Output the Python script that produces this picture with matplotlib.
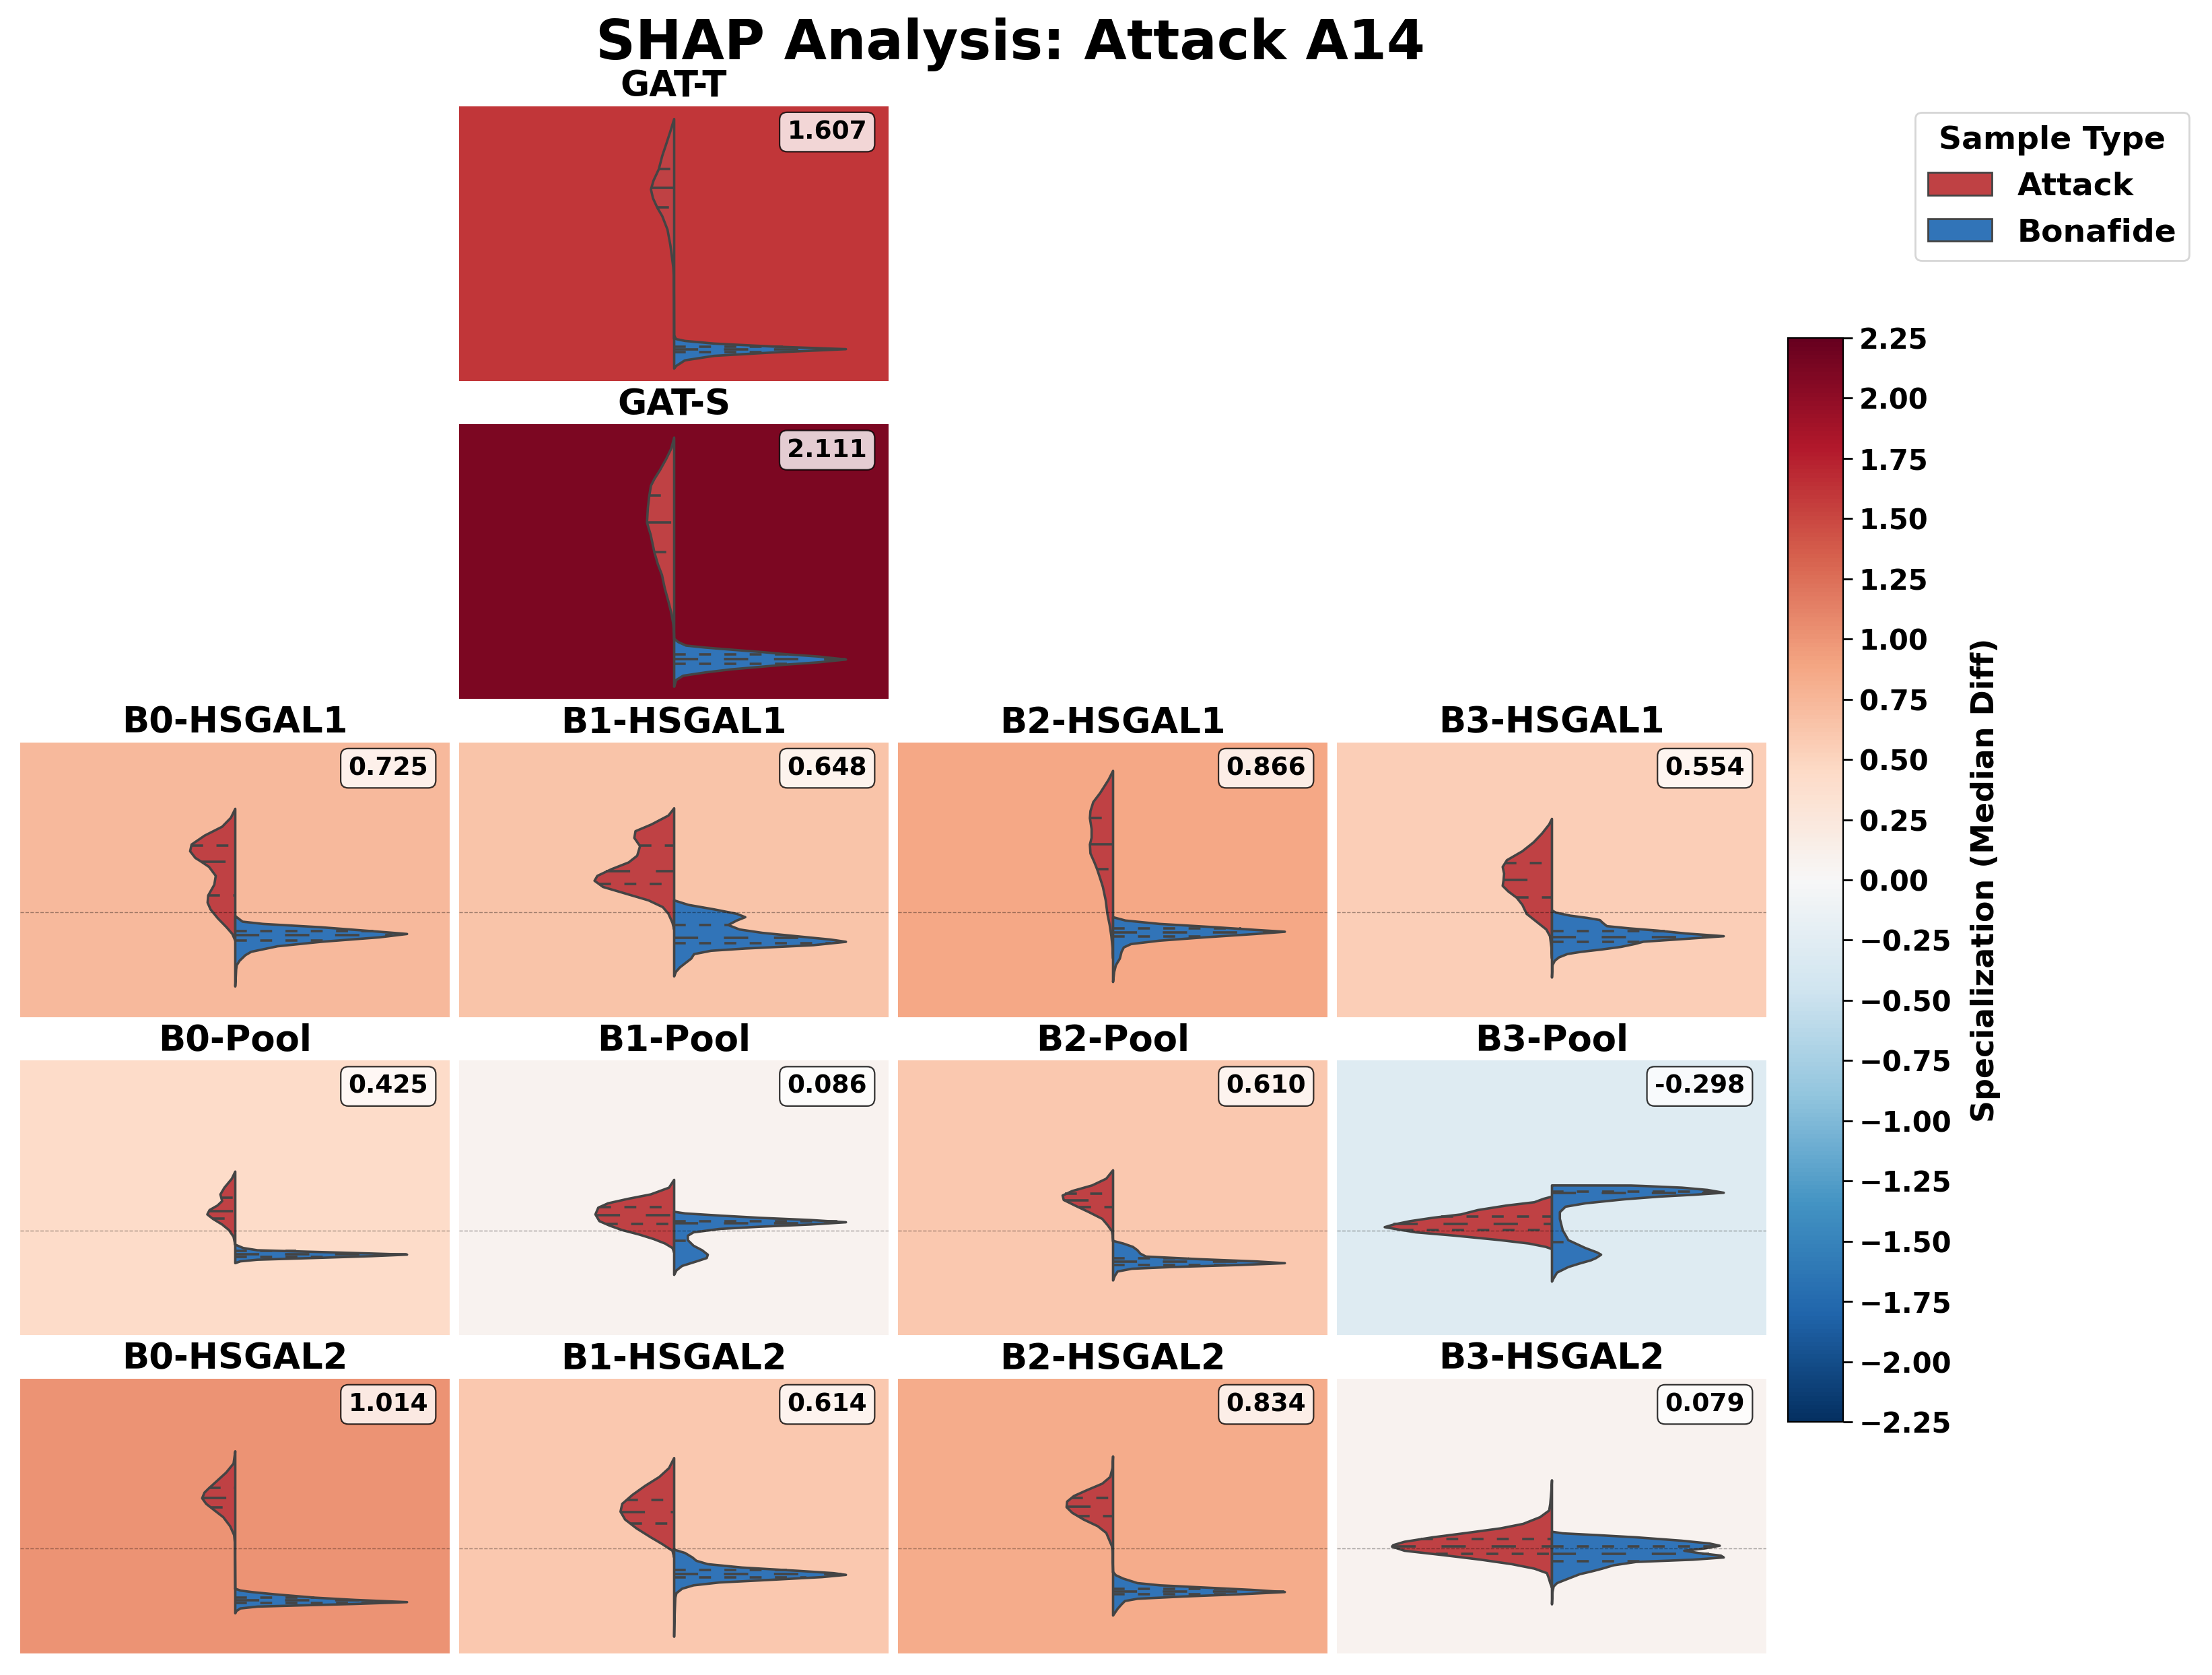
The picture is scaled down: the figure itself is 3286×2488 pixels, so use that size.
import numpy as np
import matplotlib
matplotlib.use("Agg")
import matplotlib.pyplot as plt
from matplotlib.colors import Normalize
from matplotlib.patches import Patch
from matplotlib.ticker import FuncFormatter

# ---------------------------------------------------------------- data
TITLE = "SHAP Analysis: Attack A14"
PANELS = ["GAT-T", "GAT-S",
          "B0-HSGAL1", "B1-HSGAL1", "B2-HSGAL1", "B3-HSGAL1",
          "B0-Pool", "B1-Pool", "B2-Pool", "B3-Pool",
          "B0-HSGAL2", "B1-HSGAL2", "B2-HSGAL2", "B3-HSGAL2"]
SPEC = [1.607, 2.111,
        0.725, 0.648, 0.866, 0.554,
        0.425, 0.086, 0.610, -0.298,
        1.014, 0.614, 0.834, 0.079]
GROUPS = ["Attack", "Bonafide"]
CBAR_TICKS = [2.25, 2.00, 1.75, 1.50, 1.25, 1.00, 0.75, 0.50, 0.25, 0.00,
              -0.25, -0.50, -0.75, -1.00, -1.25, -1.50, -1.75, -2.00, -2.25]

# density profiles (SHAP value levels, relative density) and quartiles [q1, median, q3]
GAT_T_ATK_VAL = [1.548, 1.427, 1.296, 1.186, 1.054, 0.944, 0.856, 0.769, 0.676, 0.593, 0.461, 0.307, 0.198, 0.088, -0.022, -0.242, -0.571, -0.615]
GAT_T_ATK_DEN = [0, 13, 28, 41, 53, 71, 80, 73, 58, 41, 23, 13, 8, 3, 1, 0.5, 0.2, 0]
GAT_T_ATK_Q = [0.676, 0.870, 1.054]
GAT_T_BON_VAL = [-0.582, -0.615, -0.633, -0.659, -0.688, -0.714, -0.747, -0.780, -0.824, -0.879, -0.905]
GAT_T_BON_DEN = [0, 7, 37, 137, 337, 592, 337, 137, 37, 7, 0]
GAT_T_BON_Q = [-0.747, -0.721, -0.692]

GAT_S_ATK_VAL = [1.543, 1.437, 1.334, 1.224, 1.136, 1.071, 0.970, 0.851, 0.708, 0.587, 0.418, 0.302, 0.192, 0.060, -0.071, -0.181, -0.291, -0.379, -0.440]
GAT_S_ATK_DEN = [0, 10, 28, 50, 70, 82, 88, 93, 96, 83, 70, 58, 43, 33, 20, 10, 3, 0.5, 0]
GAT_S_ATK_Q = [0.418, 0.708, 0.970]
GAT_S_BON_VAL = [-0.434, -0.467, -0.501, -0.521, -0.543, -0.565, -0.587, -0.609, -0.638, -0.665, -0.687, -0.708, -0.735, -0.764, -0.797, -0.840, -0.906]
GAT_S_BON_DEN = [0, 15, 42, 112, 210, 312, 400, 512, 607, 512, 400, 312, 200, 112, 32, 7, 0]
GAT_S_BON_Q = [-0.681, -0.638, -0.594]

B0_H1_ATK_VAL = [1.021, 0.933, 0.845, 0.758, 0.670, 0.604, 0.538, 0.498, 0.450, 0.362, 0.275, 0.169, 0.099, 0.033, -0.055, -0.143, -0.209, -0.275]
B0_H1_ATK_DEN = [0, 15, 45, 105, 150, 155, 137, 115, 90, 67, 72, 93, 95, 85, 60, 30, 10, 0]
B0_H1_ATK_Q = [0.169, 0.498, 0.654]
B0_H1_BON_VAL = [-0.033, -0.044, -0.088, -0.110, -0.143, -0.187, -0.209, -0.242, -0.286, -0.330, -0.384, -0.417, -0.472, -0.516, -0.560, -0.648, -0.725]
B0_H1_BON_DEN = [0, 5, 25, 95, 295, 495, 590, 495, 295, 145, 55, 35, 15, 5, 3, 1.5, 0]
B0_H1_BON_Q = [-0.275, -0.226, -0.187]

B1_H1_ATK_VAL = [1.026, 0.955, 0.867, 0.801, 0.735, 0.654, 0.560, 0.494, 0.428, 0.362, 0.314, 0.253, 0.187, 0.121, 0.055, -0.011, -0.099, -0.165]
B1_H1_ATK_DEN = [0, 10, 40, 68, 70, 60, 65, 80, 110, 135, 140, 125, 85, 45, 20, 10, 3, 0]
B1_H1_ATK_Q = [0.279, 0.402, 0.654]
B1_H1_BON_VAL = [0.121, 0.077, 0.033, -0.011, -0.044, -0.077, -0.121, -0.165, -0.198, -0.231, -0.264, -0.286, -0.319, -0.352, -0.374, -0.407, -0.451, -0.494, -0.538, -0.582, -0.626]
B1_H1_BON_DEN = [0, 25, 70, 110, 125, 110, 95, 115, 155, 215, 275, 302, 245, 125, 65, 35, 30, 20, 10, 3, 0]
B1_H1_BON_Q = [-0.301, -0.248, -0.127]

B2_H1_ATK_VAL = [1.394, 1.306, 1.175, 1.087, 0.999, 0.929, 0.823, 0.736, 0.670, 0.582, 0.494, 0.424, 0.340, 0.253, 0.121, -0.011, -0.121, -0.231, -0.340, -0.450]
B2_H1_ATK_DEN = [0, 8, 23, 35, 40, 41, 38, 38, 41, 40, 33, 28, 23, 18, 13, 10, 6, 3, 1, 0]
B2_H1_ATK_Q = [0.424, 0.670, 0.929]
B2_H1_BON_VAL = [-0.044, -0.077, -0.110, -0.143, -0.169, -0.187, -0.209, -0.242, -0.275, -0.308, -0.341, -0.385, -0.451, -0.516, -0.582, -0.681]
B2_H1_BON_DEN = [0, 22, 82, 182, 252, 304, 252, 162, 82, 32, 19, 15, 12, 5, 2, 0]
B2_H1_BON_Q = [-0.237, -0.195, -0.160]

B3_H1_ATK_VAL = [0.922, 0.867, 0.779, 0.692, 0.604, 0.516, 0.450, 0.384, 0.318, 0.264, 0.209, 0.147, 0.077, -0.011, -0.099, -0.165, -0.231, -0.340, -0.450]
B3_H1_ATK_DEN = [0, 10, 35, 65, 105, 160, 175, 170, 172, 175, 155, 125, 105, 90, 50, 20, 7, 2, 0]
B3_H1_ATK_Q = [0.147, 0.318, 0.485]
B3_H1_BON_VAL = [0.022, 0.000, -0.029, -0.051, -0.072, -0.099, -0.132, -0.154, -0.176, -0.204, -0.231, -0.257, -0.285, -0.307, -0.336, -0.362, -0.384, -0.406, -0.439, -0.472, -0.516, -0.637]
B3_H1_BON_DEN = [0, 15, 65, 125, 170, 180, 195, 275, 375, 475, 610, 475, 325, 295, 245, 175, 105, 55, 25, 10, 2, 0]
B3_H1_BON_Q = [-0.292, -0.241, -0.187]

B0_P_ATK_VAL = [0.582, 0.512, 0.424, 0.358, 0.292, 0.249, 0.204, 0.161, 0.117, 0.062, 0.007, -0.059, -0.140]
B0_P_ATK_DEN = [0, 6, 19, 26, 23, 31, 45, 49, 39, 23, 11, 3, 0]
B0_P_ATK_Q = [0.117, 0.191, 0.323]
B0_P_BON_VAL = [-0.136, -0.169, -0.191, -0.207, -0.223, -0.234, -0.249, -0.267, -0.284, -0.300, -0.318]
B0_P_BON_DEN = [0, 14, 39, 139, 239, 301, 239, 139, 39, 9, 0]
B0_P_BON_Q = [-0.263, -0.234, -0.202]

B1_P_ATK_VAL = [0.501, 0.424, 0.358, 0.314, 0.270, 0.227, 0.161, 0.095, 0.051, 0.007, -0.037, -0.081, -0.125, -0.169, -0.213]
B1_P_ATK_DEN = [0, 9, 41, 81, 116, 133, 138, 131, 113, 91, 61, 36, 16, 3, 0]
B1_P_ATK_Q = [0.066, 0.150, 0.231]
B1_P_BON_VAL = [0.187, 0.171, 0.150, 0.128, 0.106, 0.084, 0.062, 0.040, 0.018, -0.015, -0.048, -0.092, -0.147, -0.191, -0.235, -0.268, -0.301, -0.345, -0.389, -0.433]
B1_P_BON_DEN = [0, 19, 79, 149, 239, 301, 239, 149, 79, 34, 24, 24, 34, 49, 59, 57, 39, 14, 4, 0]
B1_P_BON_Q = [-0.099, 0.071, 0.088]

B2_P_ATK_VAL = [0.595, 0.512, 0.446, 0.391, 0.347, 0.303, 0.248, 0.182, 0.117, 0.051, -0.004, -0.059, -0.105]
B2_P_ATK_DEN = [0, 12, 37, 72, 89, 87, 67, 42, 19, 9, 2, 0.5, 0]
B2_P_ATK_Q = [0.227, 0.299, 0.360]
B2_P_BON_VAL = [-0.099, -0.125, -0.158, -0.191, -0.224, -0.253, -0.279, -0.301, -0.318, -0.336, -0.356, -0.373, -0.400, -0.444, -0.488]
B2_P_BON_DEN = [0, 18, 35, 43, 48, 58, 153, 253, 303, 223, 103, 33, 8, 3, 0]
B2_P_BON_Q = [-0.336, -0.305, -0.274]

B3_P_ATK_VAL = [0.336, 0.314, 0.281, 0.248, 0.204, 0.161, 0.128, 0.095, 0.062, 0.036, 0.011, -0.015, -0.048, -0.092, -0.125, -0.158, -0.180]
B3_P_ATK_DEN = [0, 15, 31, 81, 131, 161, 211, 251, 280, 296, 270, 241, 171, 91, 41, 11, 0]
B3_P_ATK_Q = [0.007, 0.062, 0.138]
B3_P_BON_VAL = [0.446, 0.445, 0.441, 0.424, 0.402, 0.374, 0.354, 0.336, 0.310, 0.288, 0.270, 0.237, 0.183, 0.117, 0.007, -0.092, -0.169, -0.213, -0.235, -0.268, -0.290, -0.323, -0.356, -0.411, -0.466, -0.499]
B3_P_BON_DEN = [0, 140, 160, 230, 275, 304, 250, 190, 129, 90, 59, 24, 14, 14, 19, 29, 59, 80, 87, 78, 69, 48, 29, 9, 3, 0]
B3_P_BON_Q = [-0.114, 0.366, 0.384]

B0_H2_ATK_VAL = [0.959, 0.839, 0.750, 0.663, 0.597, 0.553, 0.498, 0.443, 0.377, 0.312, 0.223, 0.136, 0.048, -0.395]
B0_H2_ATK_DEN = [0, 3, 16, 33, 46, 54, 58, 51, 36, 21, 9, 2, 0.5, 0]
B0_H2_ATK_Q = [0.404, 0.498, 0.597]
B0_H2_BON_VAL = [-0.391, -0.409, -0.424, -0.446, -0.479, -0.501, -0.523, -0.541, -0.556, -0.567, -0.585, -0.611, -0.633]
B0_H2_BON_DEN = [0, 9, 29, 69, 139, 209, 301, 209, 109, 39, 9, 2, 0]
B0_H2_BON_Q = [-0.534, -0.508, -0.479]

B1_H2_ATK_VAL = [0.893, 0.794, 0.707, 0.619, 0.531, 0.443, 0.366, 0.289, 0.202, 0.114, 0.048, -0.018, -0.084]
B1_H2_ATK_DEN = [0, 9, 26, 51, 73, 91, 94, 86, 66, 41, 21, 3, 0]
B1_H2_ATK_Q = [0.246, 0.362, 0.480]
B1_H2_BON_VAL = [-0.007, -0.040, -0.084, -0.117, -0.150, -0.183, -0.216, -0.238, -0.255, -0.277, -0.304, -0.330, -0.358, -0.391, -0.435, -0.479, -0.699, -0.863]
B1_H2_BON_DEN = [0, 19, 32, 39, 59, 119, 219, 279, 301, 259, 169, 79, 34, 14, 4, 2, 0.5, 0]
B1_H2_BON_Q = [-0.285, -0.249, -0.211]

B2_H2_ATK_VAL = [0.909, 0.794, 0.707, 0.641, 0.575, 0.520, 0.465, 0.410, 0.355, 0.289, 0.223, 0.157, 0.092, 0.026, -0.018, -0.120, -0.232]
B2_H2_ATK_DEN = [0, 1, 5, 19, 47, 69, 81, 82, 72, 52, 27, 12, 7, 2, 1, 0.5, 0]
B2_H2_ATK_Q = [0.320, 0.410, 0.498]
B2_H2_BON_VAL = [-0.227, -0.259, -0.292, -0.336, -0.358, -0.380, -0.402, -0.424, -0.446, -0.468, -0.490, -0.512, -0.545, -0.589, -0.655]
B2_H2_BON_DEN = [0, 5, 18, 43, 83, 163, 243, 303, 223, 123, 43, 21, 15, 8, 0]
B2_H2_BON_Q = [-0.451, -0.424, -0.396]

B3_H2_ATK_VAL = [0.674, 0.575, 0.443, 0.377, 0.312, 0.246, 0.202, 0.157, 0.114, 0.070, 0.037, 0.022, -0.018, -0.062, -0.106, -0.150, -0.194, -0.238, -0.281, -0.336, -0.380]
B3_H2_ATK_DEN = [0, 1, 3, 5, 21, 51, 91, 151, 211, 261, 281, 283, 261, 191, 126, 71, 31, 9, 6, 3, 0]
B3_H2_ATK_Q = [-0.053, 0.022, 0.096]
B3_H2_BON_VAL = [0.169, 0.153, 0.136, 0.114, 0.081, 0.053, 0.031, 0.004, -0.018, -0.040, -0.066, -0.084, -0.106, -0.128, -0.161, -0.194, -0.216, -0.249, -0.292, -0.336, -0.369, -0.424, -0.545]
B3_H2_BON_DEN = [0, 19, 79, 149, 229, 279, 297, 269, 234, 259, 299, 304, 249, 149, 109, 89, 74, 49, 29, 9, 3, 1, 0]
B3_H2_BON_Q = [-0.123, -0.053, 0.024]

PROFILES = {
    "GAT-T": [(GAT_T_ATK_VAL, GAT_T_ATK_DEN, GAT_T_ATK_Q), (GAT_T_BON_VAL, GAT_T_BON_DEN, GAT_T_BON_Q)],
    "GAT-S": [(GAT_S_ATK_VAL, GAT_S_ATK_DEN, GAT_S_ATK_Q), (GAT_S_BON_VAL, GAT_S_BON_DEN, GAT_S_BON_Q)],
    "B0-HSGAL1": [(B0_H1_ATK_VAL, B0_H1_ATK_DEN, B0_H1_ATK_Q), (B0_H1_BON_VAL, B0_H1_BON_DEN, B0_H1_BON_Q)],
    "B1-HSGAL1": [(B1_H1_ATK_VAL, B1_H1_ATK_DEN, B1_H1_ATK_Q), (B1_H1_BON_VAL, B1_H1_BON_DEN, B1_H1_BON_Q)],
    "B2-HSGAL1": [(B2_H1_ATK_VAL, B2_H1_ATK_DEN, B2_H1_ATK_Q), (B2_H1_BON_VAL, B2_H1_BON_DEN, B2_H1_BON_Q)],
    "B3-HSGAL1": [(B3_H1_ATK_VAL, B3_H1_ATK_DEN, B3_H1_ATK_Q), (B3_H1_BON_VAL, B3_H1_BON_DEN, B3_H1_BON_Q)],
    "B0-Pool": [(B0_P_ATK_VAL, B0_P_ATK_DEN, B0_P_ATK_Q), (B0_P_BON_VAL, B0_P_BON_DEN, B0_P_BON_Q)],
    "B1-Pool": [(B1_P_ATK_VAL, B1_P_ATK_DEN, B1_P_ATK_Q), (B1_P_BON_VAL, B1_P_BON_DEN, B1_P_BON_Q)],
    "B2-Pool": [(B2_P_ATK_VAL, B2_P_ATK_DEN, B2_P_ATK_Q), (B2_P_BON_VAL, B2_P_BON_DEN, B2_P_BON_Q)],
    "B3-Pool": [(B3_P_ATK_VAL, B3_P_ATK_DEN, B3_P_ATK_Q), (B3_P_BON_VAL, B3_P_BON_DEN, B3_P_BON_Q)],
    "B0-HSGAL2": [(B0_H2_ATK_VAL, B0_H2_ATK_DEN, B0_H2_ATK_Q), (B0_H2_BON_VAL, B0_H2_BON_DEN, B0_H2_BON_Q)],
    "B1-HSGAL2": [(B1_H2_ATK_VAL, B1_H2_ATK_DEN, B1_H2_ATK_Q), (B1_H2_BON_VAL, B1_H2_BON_DEN, B1_H2_BON_Q)],
    "B2-HSGAL2": [(B2_H2_ATK_VAL, B2_H2_ATK_DEN, B2_H2_ATK_Q), (B2_H2_BON_VAL, B2_H2_BON_DEN, B2_H2_BON_Q)],
    "B3-HSGAL2": [(B3_H2_ATK_VAL, B3_H2_ATK_DEN, B3_H2_ATK_Q), (B3_H2_BON_VAL, B3_H2_BON_DEN, B3_H2_BON_Q)],
}

# ---------------------------------------------------------------- style
COLORS = {"Attack": "#BF4144", "Bonafide": "#3174B8"}
LINE = "#444444"
LW = 1.3
DPI = 200
W_PX, H_PX = 3287, 2488
CMAP = plt.get_cmap("RdBu_r")
NORM = Normalize(vmin=-2.25, vmax=2.25)

plt.rcParams["font.family"] = ["DejaVu Sans"]
plt.rcParams["font.weight"] = "bold"

fig = plt.figure(figsize=(W_PX / DPI, H_PX / DPI), dpi=DPI)

# grid geometry (pixels)
COL_LEFT = [30, 682, 1334, 1986]
ROW_TOP = [157.7, 630.2, 1102.7, 1575.2, 2047.7]
PW, PH = 638, 408
GRID_ROW = [0, 1, 2, 2, 2, 2, 3, 3, 3, 3, 4, 4, 4, 4]
GRID_COL = [1, 1, 0, 1, 2, 3, 0, 1, 2, 3, 0, 1, 2, 3]


def draw_half(ax, vals, dens, scale, side, color, quart):
    v = np.asarray(vals, float)
    d = np.asarray(dens, float) * scale
    if side < 0:
        ax.fill_betweenx(v, -d, 0, facecolor=color, edgecolor=LINE,
                         linewidth=LW, zorder=2)
    else:
        ax.fill_betweenx(v, 0, d, facecolor=color, edgecolor=LINE,
                         linewidth=LW, zorder=2)
    order = np.argsort(v)
    for i, q in enumerate(quart):
        w = np.interp(q, v[order], d[order])
        dash = (10.0, 10.6) if i == 1 else (4.9, 5.5)
        xs = [-w, 0] if side < 0 else [0, w]
        ax.plot(xs, [q, q], color=LINE, linewidth=LW, dashes=dash,
                solid_capstyle="butt", dash_capstyle="butt", zorder=3)


first_ax = None
for k, name in enumerate(PANELS):
    r, c = GRID_ROW[k], GRID_COL[k]
    rect = [COL_LEFT[c] / W_PX, 1 - (ROW_TOP[r] + PH) / H_PX, PW / W_PX, PH / H_PX]
    ax = fig.add_axes(rect, sharey=first_ax) if first_ax else fig.add_axes(rect)
    if first_ax is None:
        first_ax = ax
    ax.set_facecolor(CMAP(NORM(SPEC[k])))
    (av, ad, aq), (bv, bd, bq) = PROFILES[name]
    scale = 0.4 / max(max(ad), max(bd))
    draw_half(ax, av, ad, scale, -1, COLORS["Attack"], aq)
    draw_half(ax, bv, bd, scale, +1, COLORS["Bonafide"], bq)
    if r >= 2:
        ax.axhline(0, color="black", alpha=0.35, linewidth=0.5,
                   linestyle="--", zorder=4)
    ax.set_xlim(-0.5, 0.5)
    ax.set_xticks([])
    ax.tick_params(left=False, labelleft=False)
    for s in ax.spines.values():
        s.set_visible(False)
    ax.set_title(name, fontsize=19, fontweight="bold", pad=5)
    ax.text(0.95, 0.95, f"{SPEC[k]:.3f}", transform=ax.transAxes,
            ha="right", va="top", fontsize=13.5, fontweight="bold", zorder=6,
            bbox=dict(boxstyle="round,pad=0.3", facecolor="white",
                      alpha=0.8, edgecolor="black", linewidth=0.8))

# colorbar
CB_TOP, CB_BOT, CB_L, CB_W = 502, 2112, 2656, 82
cax = fig.add_axes([CB_L / W_PX, 1 - CB_BOT / H_PX, CB_W / W_PX, (CB_BOT - CB_TOP) / H_PX])
sm = plt.cm.ScalarMappable(norm=NORM, cmap=CMAP)
cb = fig.colorbar(sm, cax=cax)
cb.set_ticks(CBAR_TICKS)
cb.ax.yaxis.set_major_formatter(FuncFormatter(lambda v, p: f"{v:.2f}".replace("-", "\u2212")))
cb.ax.tick_params(labelsize=15, length=5, width=1.0)
for lab in cb.ax.get_yticklabels():
    lab.set_fontweight("bold")
cb.outline.set_linewidth(0.8)
cb.set_label("Specialization (Median Diff)", fontsize=16.5, fontweight="bold",
             labelpad=10)

# legend
handles = [Patch(facecolor=COLORS[g], edgecolor=LINE, linewidth=1.0, label=g) for g in GROUPS]
fig.legend(handles=handles, title="Sample Type", loc="upper right",
           bbox_to_anchor=(3252 / W_PX, 1 - 167 / H_PX), borderaxespad=0,
           prop={"weight": "bold", "size": 17},
           title_fontproperties={"weight": "bold", "size": 17})

fig.text(0.4565, 1 - 88 / H_PX, TITLE, ha="center", va="baseline",
         fontsize=29.5, fontweight="bold")

fig.savefig("out.png", dpi=DPI)
